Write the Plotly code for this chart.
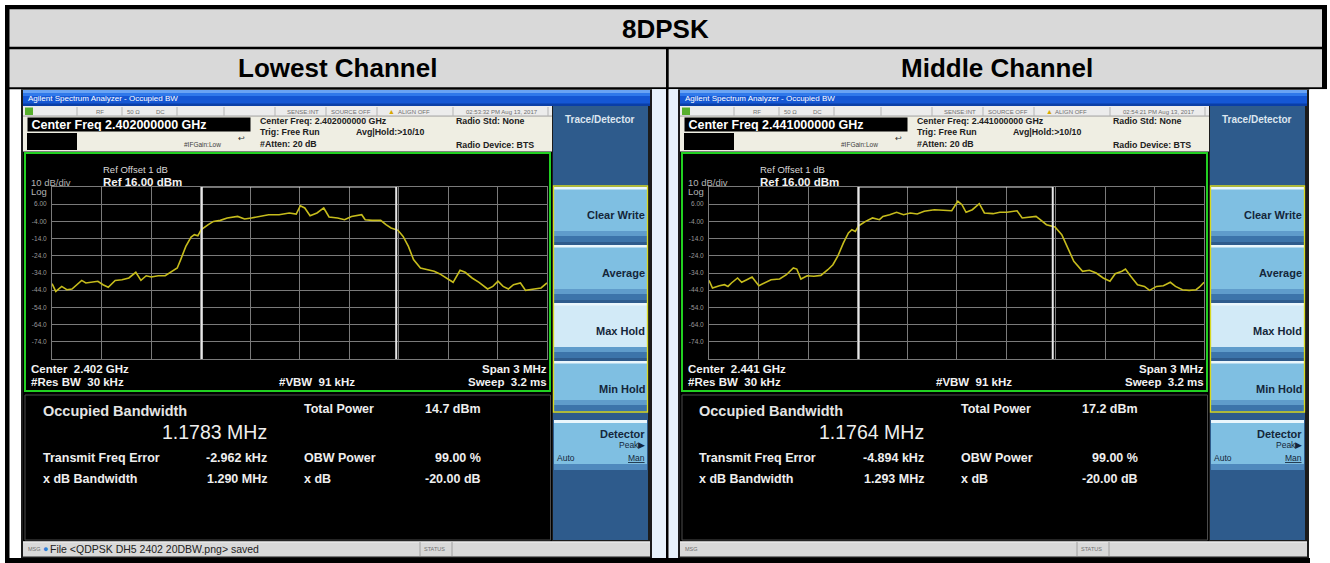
import plotly.graph_objects as go

W, H = 1330, 563
FONT = "Liberation Sans, Arial, Helvetica, sans-serif"

# ---------------- data ----------------
table_title = "8DPSK"
channel_names = ["Lowest Channel", "Middle Channel"]
center_ghz = [2.402, 2.441]
timestamps = ["02:53:32 PM Aug 13, 2017", "02:54:21 PM Aug 13, 2017"]
obw_mhz = [1.1783, 1.1764]
total_power_dbm = [14.7, 17.2]
freq_error_khz = [-2.962, -4.894]
xdb_bw_mhz = [1.290, 1.293]
obw_power_pct = [99.00, 99.00]
x_db = [-20.00, -20.00]
msg_text = ["File &lt;QDPSK DH5 2402 20DBW.png&gt; saved", ""]
ref_level_dbm = 16.0
ref_offset_db = 1
db_per_div = 10
span_mhz = 3
rbw_khz = 30
vbw_khz = 91
sweep_ms = 3.2

y_tick_values = [6, -4, -14, -24, -34, -44, -54, -64, -74]
y_tick_labels = ["6.00", "-4.00", "-14.0", "-24.0", "-34.0", "-44.0", "-54.0", "-64.0", "-74.0"]

softkey_labels = ["Clear Write", "Average", "Max Hold", "Min Hold"]

low_freq_offset_mhz = [
    -1.500, -1.477, -1.441, -1.410, -1.379, -1.347, -1.320, -1.295, -1.253, -1.222,
    -1.191, -1.159, -1.117, -1.076, -1.034, -0.992, -0.961, -0.929, -0.898, -0.856,
    -0.814, -0.772, -0.741, -0.720, -0.689, -0.657, -0.637, -0.616, -0.595, -0.553,
    -0.522, -0.480, -0.438, -0.375, -0.333, -0.292, -0.229, -0.187, -0.124, -0.062,
    -0.020, 0.005, 0.032, 0.064, 0.106, 0.147, 0.179, 0.231, 0.273, 0.315,
    0.377, 0.398, 0.440, 0.492, 0.524, 0.555, 0.597, 0.628, 0.660, 0.691,
    0.733, 0.785, 0.816, 0.848, 0.879, 0.931, 0.973, 1.004, 1.046, 1.088,
    1.140, 1.172, 1.203, 1.234, 1.266, 1.297, 1.339, 1.370, 1.423, 1.464, 1.500]
low_level_dbm = [
    -40.2, -44.7, -41.8, -43.7, -43.3, -40.8, -38.3, -39.8, -39.4, -38.8,
    -40.8, -42.3, -38.3, -37.9, -36.9, -33.6, -38.3, -35.6, -36.3, -35.6,
    -35.6, -33.0, -31.1, -26.2, -18.5, -13.1, -11.7, -12.3, -8.8, -5.9,
    -4.0, -3.4, -2.0, -1.1, -2.6, -2.0, -1.1, -0.1, -0.1, 0.9,
    0.3, 5.1, 3.8, -0.7, 0.9, 3.8, -1.4, -2.0, -3.0, -1.1,
    -0.1, -3.0, -3.4, -3.4, -5.9, -7.8, -9.2, -12.7, -18.5, -26.2,
    -31.1, -32.1, -33.0, -34.4, -36.3, -39.4, -32.4, -33.6, -36.9, -39.4,
    -43.3, -41.8, -38.8, -41.8, -43.3, -40.8, -39.8, -44.1, -43.3, -42.7, -39.8]

mid_freq_offset_mhz = [
    -1.500, -1.479, -1.437, -1.406, -1.385, -1.364, -1.327, -1.302, -1.271, -1.239,
    -1.198, -1.166, -1.124, -1.072, -1.031, -0.989, -0.968, -0.943, -0.905, -0.864,
    -0.822, -0.780, -0.749, -0.718, -0.686, -0.655, -0.634, -0.613, -0.592, -0.551,
    -0.509, -0.467, -0.446, -0.405, -0.363, -0.321, -0.280, -0.238, -0.196, -0.134,
    -0.071, -0.029, 0.008, 0.033, 0.058, 0.096, 0.138, 0.169, 0.221, 0.263,
    0.305, 0.367, 0.398, 0.451, 0.482, 0.513, 0.545, 0.597, 0.638, 0.670,
    0.711, 0.764, 0.805, 0.847, 0.889, 0.930, 0.962, 1.003, 1.024, 1.056,
    1.097, 1.139, 1.170, 1.212, 1.254, 1.296, 1.327, 1.369, 1.410, 1.452,
    1.473, 1.500]
mid_level_dbm = [
    -38.3, -42.7, -41.4, -40.8, -41.8, -39.8, -36.9, -39.4, -37.9, -36.3,
    -41.4, -39.8, -37.9, -37.5, -35.0, -31.1, -31.7, -37.5, -35.6, -35.9,
    -35.4, -32.1, -29.2, -23.9, -16.6, -10.7, -8.8, -9.8, -6.5, -4.0,
    -2.0, -3.0, -1.1, -0.1, 1.3, -0.1, 0.9, 0.3, 1.9, 2.8,
    2.4, 2.2, 7.7, 5.7, 1.3, 2.8, 6.3, 0.9, 0.5, 1.3,
    1.3, 2.2, -2.0, -1.4, -1.1, -3.4, -5.9, -7.3, -11.7, -18.5,
    -27.2, -33.0, -32.4, -34.0, -36.9, -38.8, -34.4, -33.0, -31.7, -35.9,
    -40.8, -41.8, -44.1, -41.8, -41.4, -39.4, -41.8, -43.7, -44.1, -43.7,
    -42.1, -39.4]

traces_x = [low_freq_offset_mhz, mid_freq_offset_mhz]
traces_y = [low_level_dbm, mid_level_dbm]

# ---------------- helpers (pixel -> paper) ----------------
shapes = []
annos = []


def X(px):
    return px / W


def Y(py):
    return 1 - py / H


def rect(x0, y0, x1, y1, fill, line=None, lw=0, layer="below"):
    shapes.append(dict(type="rect", xref="paper", yref="paper",
                       x0=X(x0), x1=X(x1), y0=Y(y1), y1=Y(y0),
                       fillcolor=fill, layer=layer,
                       line=dict(color=line or "rgba(0,0,0,0)", width=lw)))


def hline(x0, x1, y, color, w=1, layer="below"):
    shapes.append(dict(type="line", xref="paper", yref="paper",
                       x0=X(x0), x1=X(x1), y0=Y(y), y1=Y(y),
                       line=dict(color=color, width=w), layer=layer))


def vline(x, y0, y1, color, w=1, layer="below"):
    shapes.append(dict(type="line", xref="paper", yref="paper",
                       x0=X(x), x1=X(x), y0=Y(y0), y1=Y(y1),
                       line=dict(color=color, width=w), layer=layer))


def text(x, y, s, size, color, anchor="left", bold=False, box=None):
    d = dict(xref="paper", yref="paper", x=X(x), y=Y(y),
             text=f"<b>{s}</b>" if bold else s, showarrow=False,
             xanchor=anchor, yanchor="middle", borderpad=0,
             font=dict(size=size, color=color, family=FONT))
    if box:
        bw, bh, bg = box
        d.update(width=bw, height=bh, bgcolor=bg, align="left")
    annos.append(d)


# ---------------- table ----------------
rect(5, 5, 1327, 563, "#000000")
rect(9.5, 9.3, 1322, 46.8, "#d9d9d9")
rect(9.5, 49.3, 666, 87.3, "#d9d9d9")
rect(668.7, 49.3, 1322, 87.3, "#d9d9d9")
rect(9.5, 89.3, 666, 558, "#ffffff")
rect(668.7, 89.3, 1330, 558, "#ffffff")
rect(1310, 89.3, 1330, 563, "#ffffff")
text(665, 29, table_title, 26, "#000000", "center", True)
text(337, 68, channel_names[0], 26, "#000000", "center", True)
text(997, 68, channel_names[1], 26, "#000000", "center", True)

fig = go.Figure()

for i in range(2):
    o = 657 * i
    # desktop strip next to the screenshot
    if i == 0:
        rect(652, 89.3, 666, 558, "#e8f2fb")
    else:
        rect(668.7, 89.3, 679, 558, "#e8f2fb")
    # frame
    rect(21 + o, 89.3, 652 + o, 558, "#1c1c1c")
    # title bar
    rect(23 + o, 90, 650 + o, 106, "#1557d4")
    rect(23 + o, 90, 650 + o, 93, "#6aa4f4")
    rect(23 + o, 93, 650 + o, 96, "#3079ea")
    rect(23 + o, 103.5, 650 + o, 106, "#0a3ea6")
    text(27 + o, 98.5, "Agilent Spectrum Analyzer - Occupied BW", 8, "#ffffff")

    # status row
    rect(23 + o, 106, 552 + o, 116.5, "#ececec")
    hline(23 + o, 552 + o, 116, "#a8a8a8", 1)
    for dx in [77, 122, 177, 224, 275, 326, 377, 453, 548]:
        vline(dx + o, 107, 116, "#b4b4b4", 1)
    rect(25 + o, 107.5, 33 + o, 115, "#58b02c")
    st = "#707070"
    text(100 + o, 111.5, "RF", 6, st, "center")
    text(133 + o, 111.5, "50 Ω", 6, st, "center")
    text(160 + o, 111.5, "DC", 6, st, "center")
    text(303 + o, 111.5, "SENSE:INT", 6, st, "center")
    text(351 + o, 111.5, "SOURCE OFF", 6, st, "center")
    text(392 + o, 111, "▲", 7, "#d8a800", "center")
    text(397 + o, 111.5, "ALIGN OFF", 6, st)
    text(502 + o, 111.5, timestamps[i], 6, st, "center")

    # settings panel
    rect(23 + o, 116.5, 552 + o, 151, "#efeee3")
    rect(27 + o, 133, 77 + o, 150, "#000000", layer="above")
    text(27 + o, 124.5, f"&nbsp;Center Freq {center_ghz[i]:.9f} GHz", 12.5, "#ffffff",
         bold=True, box=(222, 13, "#000000"))
    text(183 + o, 145, "#IFGain:Low", 6.5, "#404040")
    text(241 + o, 139, "↩", 8, "#303030", "center")
    dk = "#202020"
    text(259 + o, 121, f"Center Freq: {center_ghz[i]:.9f} GHz", 8.8, dk, bold=True)
    text(259 + o, 132, "Trig: Free Run", 8.8, dk, bold=True)
    text(355 + o, 132, "Avg|Hold:&gt;10/10", 8.8, dk, bold=True)
    text(259 + o, 143.5, "#Atten: 20 dB", 8.8, dk, bold=True)
    text(455 + o, 121, "Radio Std: None", 8.8, dk, bold=True)
    text(455 + o, 145, "Radio Device: BTS", 8.8, dk, bold=True)

    # plot frame
    rect(23 + o, 151, 552 + o, 393, "#000000")
    hline(23 + o, 552 + o, 151.5, "#808080", 1)
    rect(25 + o, 153, 550 + o, 391, "rgba(0,0,0,0)", "#22d022", 2)
    lg = "#b4b4b4"
    text(102 + o, 170, f"Ref Offset {ref_offset_db} dB", 9.5, "#d8d8d8")
    text(30 + o, 182, f"{db_per_div} dB/div", 9.5, lg)
    text(102 + o, 182, f"Ref {ref_level_dbm:.2f} dBm", 11.5, "#f2f2f2", bold=True)
    text(30 + o, 191, "Log", 9.5, lg)
    wt = "#f2f2f2"
    text(30 + o, 368.5, f"Center&nbsp; {center_ghz[i]:.3f} GHz", 11.5, wt, bold=True)
    text(30 + o, 381.5, f"#Res BW&nbsp; {rbw_khz} kHz", 11.5, wt, bold=True)
    text(278 + o, 381.5, f"#VBW&nbsp; {vbw_khz} kHz", 11.5, wt, bold=True)
    text(548 + o, 368.5, f"Span {span_mhz} MHz", 11.5, wt, "right", True)
    text(548 + o, 381.5, f"Sweep&nbsp; {sweep_ms} ms", 11.5, wt, "right", True)

    # results panel
    rect(23 + o, 393, 552 + o, 541, "#000000")
    rect(25 + o, 395, 550.5 + o, 540, "rgba(0,0,0,0)", "#4a4a4a", 1)
    rc = "#eeeeee"
    text(41.5 + o, 411, "Occupied Bandwidth", 14.5, "#e4e4e4", bold=True)
    text(268 + o, 432, f"{obw_mhz[i]:.4f} MHz", 19.5, rc, "right")
    text(303 + o, 408.5, "Total Power", 12.5, rc, bold=True)
    text(482 + o, 408.5, f"{total_power_dbm[i]:.1f} dBm", 12.5, rc, "right", True)
    text(41.5 + o, 458, "Transmit Freq Error", 12.5, rc, bold=True)
    text(268 + o, 458, f"{freq_error_khz[i]:.3f} kHz", 12.5, rc, "right", True)
    text(303 + o, 458, "OBW Power", 12.5, rc, bold=True)
    text(482 + o, 458, f"{obw_power_pct[i]:.2f} %", 12.5, rc, "right", True)
    text(41.5 + o, 479, "x dB Bandwidth", 12.5, rc, bold=True)
    text(268 + o, 479, f"{xdb_bw_mhz[i]:.3f} MHz", 12.5, rc, "right", True)
    text(303 + o, 479, "x dB", 12.5, rc, bold=True)
    text(482 + o, 479, f"{x_db[i]:.2f} dB", 12.5, rc, "right", True)

    # bottom status bar
    rect(23 + o, 541.5, 650 + o, 556.5, "#d9d9d9")
    hline(23 + o, 650 + o, 542, "#f4f4f4", 1)
    vline(420 + o, 542, 556, "#a0a0a0", 1)
    vline(452 + o, 542, 556, "#a0a0a0", 1)
    text(27 + o, 549, "MSG", 5.5, "#707070")
    text(423 + o, 549, "STATUS", 5.5, "#707070")
    if msg_text[i]:
        text(45 + o, 548.5, "●", 9, "#2f7fd8", "center")
        text(49 + o, 549, msg_text[i], 10.5, "#222222")

    # softkeys
    rect(553 + o, 106, 648 + o, 540, "#2e5b8c")
    text(600 + o, 120, "Trace/Detector", 10, "#dde6ef", "center", True)
    for k, lab in enumerate(softkey_labels):
        y0 = 187 + 58 * k
        y1 = y0 + (55 if k < 3 else 50)
        body = "#d2eaf7" if lab == "Max Hold" else "#7fbfe2"
        rect(554 + o, y0, 647 + o, y1, body)
        rect(554 + o, y0, 647 + o, y0 + 2.5, "#eaf6fc")
        rect(554 + o, y1 - 11, 647 + o, y1 - 6, "#5f9ccb")
        rect(554 + o, y1 - 6, 647 + o, y1, "#3c74aa")
        text(646 + o, y0 + 28, lab, 11, "#14263a", "right", True)
    rect(553.5 + o, 186, 647.5 + o, 412, "rgba(0,0,0,0)", "#d8d820", 1.3)
    rect(554 + o, 420, 647 + o, 470, "#7fbfe2")
    rect(554 + o, 420, 647 + o, 423, "#eaf6fc")
    rect(554 + o, 464, 647 + o, 470, "#4f89bd")
    text(646 + o, 434, "Detector", 11, "#14263a", "right", True)
    text(646 + o, 445, "Peak▶", 8.5, "#14263a", "right")
    text(556 + o, 458, "Auto", 8.5, "#14263a")
    text(646 + o, 458, "<u>Man</u>", 8.5, "#14263a", "right")

    # ------------- spectrum trace on real axes -------------
    xa = "x" if i == 0 else "x2"
    ya = "y" if i == 0 else "y2"
    c = freq_error_khz[i] / 1000.0
    h = obw_mhz[i] / 2.0
    for xv in (c - h, c + h):
        shapes.append(dict(type="line", xref=xa, yref=ya, x0=xv, x1=xv,
                           y0=ref_level_dbm - 10 * db_per_div, y1=ref_level_dbm + 0.3,
                           line=dict(color="#e8e8e8", width=2), layer="above"))
    shapes.append(dict(type="line", xref=xa, yref=ya, x0=c - h, x1=c + h,
                       y0=ref_level_dbm + 0.3, y1=ref_level_dbm + 0.3,
                       line=dict(color="#e8e8e8", width=2), layer="above"))
    fig.add_trace(go.Scatter(x=traces_x[i], y=traces_y[i], mode="lines",
                             line=dict(color="#c6bc1c", width=1.6),
                             xaxis=xa, yaxis=ya, showlegend=False,
                             hoverinfo="skip"))

grid_col = "#7a7a7a"
for i in range(2):
    o = 657 * i
    xkey = "xaxis" if i == 0 else "xaxis2"
    ykey = "yaxis" if i == 0 else "yaxis2"
    fig.update_layout(**{
        xkey: dict(domain=[X(52 + o), X(547 + o)], range=[-span_mhz / 2, span_mhz / 2],
                   tick0=-span_mhz / 2, dtick=span_mhz / 10, showgrid=True,
                   gridcolor=grid_col, gridwidth=1, zeroline=False,
                   showticklabels=False, ticks="", showline=True, mirror=True,
                   linecolor=grid_col, linewidth=1, fixedrange=True,
                   anchor="y" if i == 0 else "y2"),
        ykey: dict(domain=[Y(359), Y(187)],
                   range=[ref_level_dbm - 10 * db_per_div, ref_level_dbm],
                   tickvals=y_tick_values, ticktext=y_tick_labels,
                   showgrid=True, gridcolor=grid_col, gridwidth=1, zeroline=False,
                   ticks="", showline=True, mirror=True, linecolor=grid_col,
                   linewidth=1, tickfont=dict(size=6.5, color="#9a9a9a", family=FONT),
                   ticklabelstandoff=3, fixedrange=True,
                   anchor="x" if i == 0 else "x2"),
    })

fig.update_layout(width=W, height=H, margin=dict(l=0, r=0, t=0, b=0),
                  paper_bgcolor="#ffffff", plot_bgcolor="rgba(0,0,0,0)",
                  shapes=shapes, annotations=annos, showlegend=False)

fig.write_html("out.html", config={"displayModeBar": False, "staticPlot": True},
               post_script="document.body.style.margin='0';document.body.style.overflow='hidden';")
